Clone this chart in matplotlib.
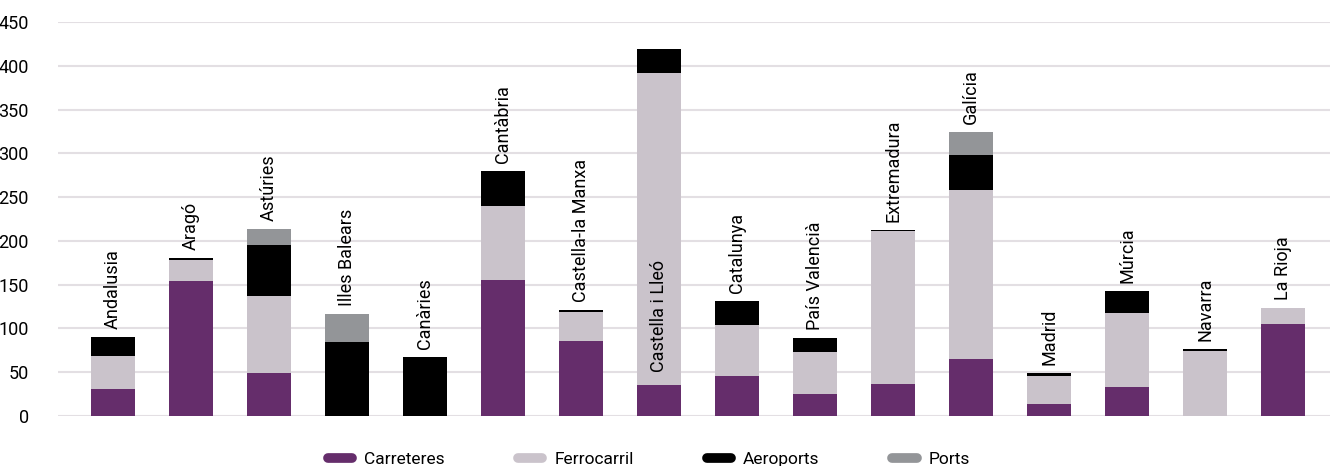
import numpy as np
import matplotlib.pyplot as plt
from matplotlib.lines import Line2D

regions = ["Andalusia", "Aragó", "Astúries", "Illes Balears", "Canàries", "Cantàbria",
           "Castella-la Manxa", "Castella i Lleó", "Catalunya", "País Valencià",
           "Extremadura", "Galícia", "Madrid", "Múrcia", "Navarra", "La Rioja"]

carreteres  = [31, 154, 49, 0.5, 0.5, 155, 86, 35, 46, 25, 36.5, 65, 14, 33, 0.5, 105]
ferrocarril = [37.5, 24.5, 88, 0, 0, 85, 33, 357, 58, 48, 174.5, 193, 32, 85, 74, 18]
aeroports   = [22, 2, 58, 84, 67, 40, 2, 27, 27, 16, 2, 40, 3, 25, 2, 0]
ports       = [0, 0, 18.5, 32, 0, 0, 0, 0, 0, 0, 0, 26, 0, 0, 0, 0]

series = [("Carreteres", carreteres, "#652d6b"),
          ("Ferrocarril", ferrocarril, "#cac3cb"),
          ("Aeroports", aeroports, "#000000"),
          ("Ports", ports, "#939598")]

plt.rcParams['font.family'] = ['Roboto', 'DejaVu Sans']

fig = plt.figure(figsize=(13.3, 4.66), dpi=100)
ax = fig.add_axes([0.0436, 0.1073, 0.9564, 0.8455])

x = np.arange(len(regions))
bottom = np.zeros(len(regions))
for name, vals, col in series:
    vals = np.array(vals, dtype=float)
    ax.bar(x, vals, width=0.565, bottom=bottom, color=col, zorder=3)
    bottom += vals

# region labels above each bar (Castella i Lleó sits inside its bar)
for i, name in enumerate(regions):
    if name == "Castella i Lleó":
        ypos = 50
    else:
        ypos = bottom[i] + 9
    ax.text(x[i], ypos, name, rotation=90, ha='center', va='bottom',
            fontsize=13, color='#000000', zorder=4)

ax.set_ylim(0, 450)
ax.set_xlim(-0.705, 15.6)
ax.set_yticks(np.arange(0, 451, 50))
ax.set_xticks([])
ax.yaxis.grid(True, color='#e3dfe3', linewidth=1.5, zorder=0)
ax.set_axisbelow(True)
for s in ax.spines.values():
    s.set_visible(False)
ax.tick_params(axis='y', length=0, pad=21, labelsize=13)

handles = [Line2D([0], [0], color=col, linewidth=7, solid_capstyle='round')
           for _, _, col in series]
fig.legend(handles, [n for n, _, _ in series], loc='center', ncol=4,
           bbox_to_anchor=(0.488, 0.015), frameon=False, fontsize=12.5,
           handlelength=1.4, columnspacing=4.2, handletextpad=0.7)

fig.savefig("out.png", dpi=100)
